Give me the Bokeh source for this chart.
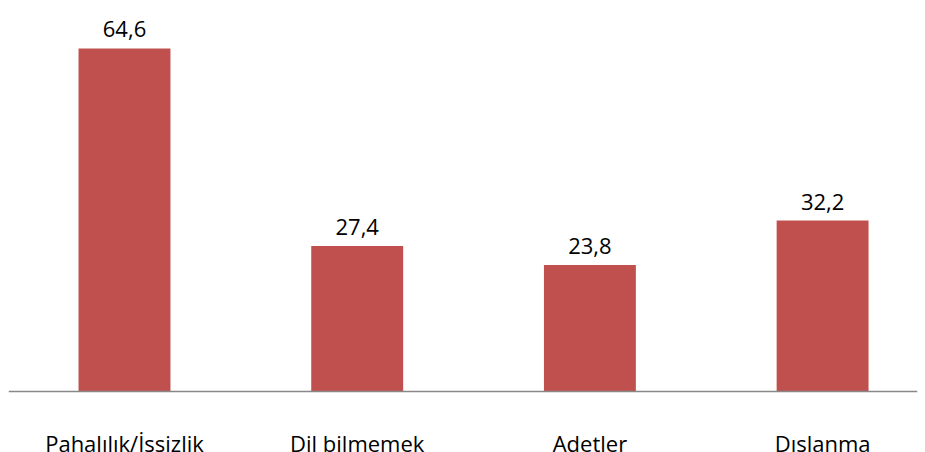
import numpy as np
from bokeh.plotting import figure
from bokeh.models import ColumnDataSource, Range1d, Span
from bokeh.core.properties import value
from bokeh.embed import file_html
from bokeh.resources import INLINE

categories = ["Pahalılık/İşsizlik", "Dil bilmemek", "Adetler", "Dışlanma"]
values = [64.6, 27.4, 23.8, 32.2]
labels = [f"{v:.1f}".replace(".", ",") for v in values]

xs = np.arange(len(categories))
source = ColumnDataSource(dict(x=xs, top=values, label=labels, cat=categories,
                               zero=np.zeros(len(categories))))

xstart = -(124 - 8) / 232.7
p = figure(width=925, height=452, output_backend="svg", toolbar_location=None,
           x_range=Range1d(xstart, xstart + 909 / 232.7),
           y_range=Range1d(-61 / 5.31, 391 / 5.31),
           min_border_left=8, min_border_right=8, min_border_top=0, min_border_bottom=0)
p.outline_line_color = None
p.grid.visible = False
p.axis.visible = False

p.vbar(x="x", top="top", width=0.395, bottom=0, source=source,
       fill_color="#C0504D", line_color=None)
p.add_layout(Span(location=0, dimension="width", line_color="#888888", line_width=1.5))
p.text(x="x", y="top", text="label", source=source, text_align="center",
       text_baseline="alphabetic", y_offset=-19, text_font=value("Open Sans"),
       text_font_size="22px", text_color="#000000")
p.text(x="x", y="zero", text="cat", source=source, text_align="center",
       text_baseline="alphabetic", y_offset=51, text_font=value("Open Sans"),
       text_font_size="22px", text_color="#000000")

open("out.html", "w").write(file_html(p, INLINE))
